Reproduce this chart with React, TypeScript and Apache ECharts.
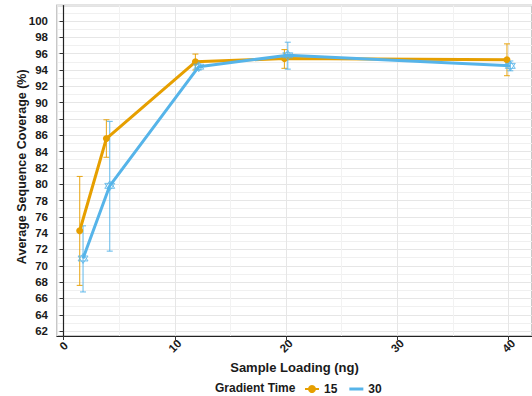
import React, { useEffect, useRef } from "react";
import * as echarts from "echarts";

const loading = [1.6, 4, 12, 20, 40];
const cov15 = [74.3, 85.6, 95.0, 95.4, 95.25];
const lo15 = [67.6, 83.3, 94.0, 94.2, 93.3];
const hi15 = [80.95, 87.9, 95.95, 96.5, 97.2];
const cov30 = [70.9, 79.8, 94.4, 95.8, 94.5];
const lo30 = [66.8, 71.8, 94.0, 94.1, 93.9];
const hi30 = [74.9, 87.7, 94.9, 97.4, 95.1];
const groups = ["15", "30"];

const ORANGE = "#E69F00";
const BLUE = "#56B4E9";
const FONT = "'Liberation Sans', Arial, sans-serif";
const DODGE = 0.15;
const STAR = "path://M0,-10 L8.66,5 L-8.66,5 Z M0,10 L8.66,-5 L-8.66,-5 Z";
const BAR_ICON = "path://M0,0 L14,0 L14,3 L0,3 Z";

function errSeries(name: string, xs: number[], lo: number[], hi: number[], color: string) {
  return {
    type: "custom",
    name,
    z: 1,
    silent: true,
    data: xs.map((x, i) => [x, lo[i], hi[i]]),
    encode: { x: 0, y: [1, 2] },
    renderItem: (params: any, api: any) => {
      const x = api.value(0);
      const p1 = api.coord([x, api.value(1)]);
      const p2 = api.coord([x, api.value(2)]);
      const hw = 3;
      const style = { stroke: color, lineWidth: 1.1, opacity: 0.85 };
      return {
        type: "group",
        children: [
          { type: "line", shape: { x1: p1[0], y1: p1[1], x2: p2[0], y2: p2[1] }, style },
          { type: "line", shape: { x1: p1[0] - hw, y1: p1[1], x2: p1[0] + hw, y2: p1[1] }, style },
          { type: "line", shape: { x1: p2[0] - hw, y1: p2[1], x2: p2[0] + hw, y2: p2[1] }, style },
        ],
      };
    },
  };
}

export default function App() {
  const ref = useRef<HTMLDivElement>(null);
  useEffect(() => {
    const chart = echarts.init(ref.current!, null, { renderer: "svg" });
    const x15 = loading.map((x) => x - DODGE);
    const x30 = loading.map((x) => x + DODGE);
    const axisLabel = { fontFamily: FONT, fontWeight: "bold", fontSize: 11.5, color: "#1a1a1a" };
    chart.setOption({
      animation: false,
      backgroundColor: "#fff",
      grid: {
        left: 57,
        top: 5.5,
        right: -3,
        bottom: 60,
        show: true,
        borderColor: "#c8c8c8",
        borderWidth: 2,
      },
      graphic: [
        {
          type: "text",
          x: 215,
          y: 388,
          style: {
            text: "Gradient Time",
            font: `bold 12px ${FONT}`,
            fill: "#1a1a1a",
            verticalAlign: "middle",
          },
        },
      ],
      legend: {
        data: [
          { name: groups[0] },
          { name: groups[1], icon: BAR_ICON, itemStyle: { color: BLUE, borderWidth: 0 } },
        ],
        left: 304,
        top: 383,
        padding: 0,
        itemWidth: 14,
        itemHeight: 10,
        itemGap: 12,
        textStyle: { fontFamily: FONT, fontWeight: "bold", fontSize: 12, color: "#1a1a1a" },
      },
      xAxis: {
        type: "value",
        min: -0.59,
        max: 42.1,
        splitNumber: 5,
        name: "Sample Loading (ng)",
        nameLocation: "middle",
        nameGap: 25,
        nameMoveOverlap: false,
        nameTextStyle: { fontFamily: FONT, fontWeight: "bold", fontSize: 13, color: "#1a1a1a" },
        axisLine: { show: true, lineStyle: { color: "#222", width: 1.2 } },
        axisTick: { show: true, length: 4, lineStyle: { color: "#333" } },
        axisLabel: {
          ...axisLabel,
          rotate: 45,
          align: "center",
          verticalAlign: "middle",
          margin: 10,
          showMinLabel: false,
          showMaxLabel: false,
        },
        splitLine: { show: true, lineStyle: { color: "#e6e6e6", width: 1 } },
        minorTick: { show: false, splitNumber: 2 },
        minorSplitLine: { show: true, lineStyle: { color: "#f2f2f2", width: 1 } },
      },
      yAxis: {
        type: "value",
        min: 61.4,
        max: 101.9,
        splitNumber: 20,
        name: "Average Sequence Coverage (%)",
        nameLocation: "middle",
        nameGap: 29,
        nameMoveOverlap: false,
        nameTextStyle: {
          fontFamily: FONT,
          fontWeight: "bold",
          fontSize: 12.5,
          color: "#1a1a1a",
          padding: [0, 0, 0, 8],
        },
        axisLine: { show: true, lineStyle: { color: "#222", width: 1.2 } },
        axisTick: { show: true, length: 4, lineStyle: { color: "#333" } },
        axisLabel: { ...axisLabel, margin: 9, showMinLabel: false, showMaxLabel: false },
        splitLine: { show: true, lineStyle: { color: "#e6e6e6", width: 1 } },
        minorTick: { show: false, splitNumber: 2 },
        minorSplitLine: { show: true, lineStyle: { color: "#f0f0f0", width: 1 } },
      },
      series: [
        errSeries("err15", x15, lo15, hi15, ORANGE),
        errSeries("err30", x30, lo30, hi30, BLUE),
        {
          type: "line",
          name: groups[0],
          z: 2,
          data: x15.map((x, i) => [x, cov15[i]]),
          symbol: "circle",
          symbolSize: 7,
          showAllSymbol: true,
          itemStyle: { color: ORANGE },
          lineStyle: { color: ORANGE, width: 3 },
        },
        {
          type: "line",
          name: groups[1],
          z: 3,
          data: x30.map((x, i) => [x, cov30[i]]),
          symbol: STAR,
          symbolSize: 10,
          showAllSymbol: true,
          itemStyle: { color: "rgba(86,180,233,0.15)", borderColor: BLUE, borderWidth: 0.8 },
          lineStyle: { color: BLUE, width: 3 },
        },
      ],
    });
    return () => chart.dispose();
  }, []);
  return (
    <div
      ref={ref}
      style={{ position: "absolute", left: 0, top: 0, width: 532, height: 396 }}
    />
  );
}
